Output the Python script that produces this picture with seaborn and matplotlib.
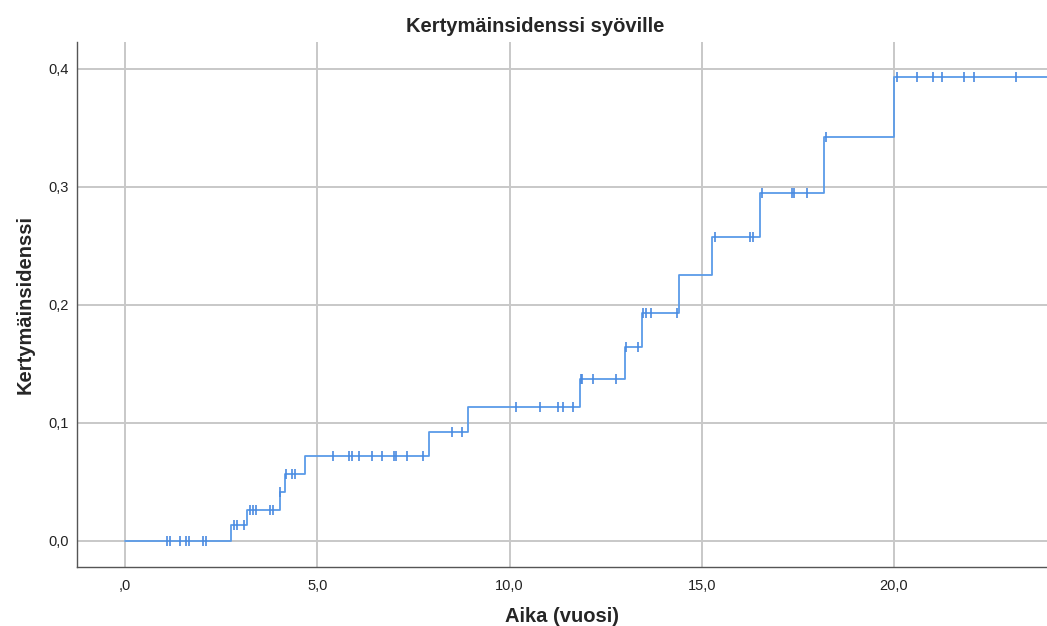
import numpy as np
import pandas as pd
import matplotlib
matplotlib.use("Agg")
import matplotlib.pyplot as plt
import seaborn as sns

# === DATA ===
step_times = [0.0, 2.75, 3.16, 4.02, 4.17, 4.67, 7.91, 8.93, 11.83, 13.01,
              13.44, 14.42, 15.26, 16.51, 18.18, 20.0, 24.0]
cum_inc = [0.0, 0.0136, 0.0263, 0.041, 0.0562, 0.072, 0.092, 0.113, 0.137, 0.164,
           0.193, 0.225, 0.257, 0.2946, 0.3418, 0.3926, 0.3926]
censor_times = [1.10, 1.17, 1.43, 1.59, 1.66, 2.02, 2.10, 2.83, 2.90, 3.10,
                3.25, 3.32, 3.40, 3.77, 3.85, 4.04, 4.19, 4.35, 4.42, 5.42,
                5.83, 5.90, 6.09, 6.42, 6.68, 7.00, 7.04, 7.34, 7.76, 8.50,
                8.76, 10.17, 10.78, 11.27, 11.40, 11.66, 11.85, 11.89, 12.18, 12.76,
                13.03, 13.33, 13.46, 13.54, 13.67, 14.35, 15.34, 16.25, 16.32, 16.58,
                17.34, 17.41, 17.75, 18.23, 20.07, 20.59, 21.01, 21.25, 21.82, 22.08,
                23.17]
x_ticks = [0, 5, 10, 15, 20]
x_ticklabels = [",0", "5,0", "10,0", "15,0", "20,0"]
y_ticks = [0.0, 0.1, 0.2, 0.3, 0.4]
y_ticklabels = ["0,0", "0,1", "0,2", "0,3", "0,4"]

curve = pd.DataFrame({"t": step_times, "ci": cum_inc})
idx = np.searchsorted(step_times, censor_times, side="right") - 1
censored = pd.DataFrame({"t": censor_times, "ci": np.array(cum_inc)[idx]})

LINE_COLOR = "#5b9be8"
MARK_COLOR = "#4a8ae0"

sns.set_theme(style="white")
plt.rcParams["font.family"] = ["Liberation Sans", "DejaVu Sans"]

fig = plt.figure(figsize=(10.47, 6.26), dpi=100)
ax = fig.add_axes([77 / 1047, 59 / 626, 970 / 1047, 525 / 626])

sns.lineplot(data=curve, x="t", y="ci", ax=ax, color=LINE_COLOR,
             drawstyle="steps-post", linewidth=1.3, zorder=3)
sns.scatterplot(data=censored, x="t", y="ci", ax=ax, marker="|", s=60,
                color=MARK_COLOR, linewidth=1.2, zorder=4)

ax.set_xlim(-1.25, 23.98)
ax.set_ylim(-0.0223, 0.4226)
ax.set_xticks(x_ticks)
ax.set_xticklabels(x_ticklabels, fontsize=10.5, color="#222222")
ax.set_yticks(y_ticks)
ax.set_yticklabels(y_ticklabels, fontsize=10.5, color="#222222")
ax.tick_params(axis="both", length=0)
ax.tick_params(axis="x", pad=9)
ax.tick_params(axis="y", pad=6)

ax.grid(True, color="#c8c8c8", linewidth=1.4)
ax.set_axisbelow(True)
for side in ["top", "right"]:
    ax.spines[side].set_visible(False)
for side in ["left", "bottom"]:
    ax.spines[side].set_color("#555555")
    ax.spines[side].set_linewidth(1.0)

ax.set_xlabel("Aika (vuosi)", fontsize=14.5, fontweight="bold", labelpad=10)
ax.set_ylabel("Kertymäinsidenssi", fontsize=14.5, fontweight="bold", labelpad=10)
fig.text(535 / 1047, 1 - 27 / 626, "Kertymäinsidenssi syöville", ha="center", va="center",
         fontsize=14.5, fontweight="bold")

fig.savefig("out.png", dpi=100)
